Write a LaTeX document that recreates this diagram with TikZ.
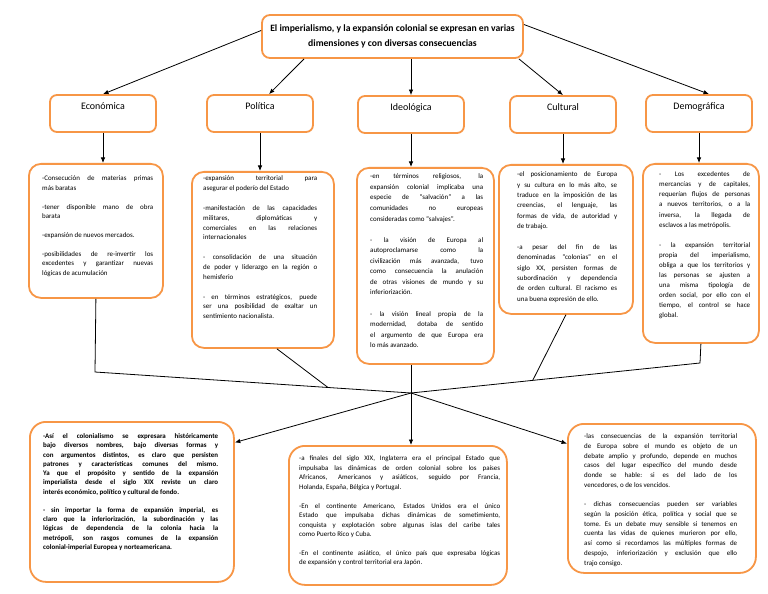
\documentclass[tikz,border=0pt]{standalone}
\usepackage{fontspec}
\setmainfont{Carlito}
\usetikzlibrary{arrows.meta,calc}
\definecolor{borange}{HTML}{F79646}
\newcommand{\boxfmt}[2]{\fontsize{#1}{#2}\selectfont\parskip=#2\relax\parindent=0pt\leftskip=0pt\rightskip=0pt\spaceskip=0.226em plus 1fil\relax\xspaceskip=\spaceskip\parfillskip=0pt plus 1fill\relax\hyphenpenalty=10000\exhyphenpenalty=10000\tolerance=10000\hbadness=10000\leavevmode\rule{0pt}{6pt}\ignorespaces}
\begin{document}
\begin{tikzpicture}[x=1bp,y=-1bp,
  obox/.style={draw=borange, line width=1.8bp, rounded corners=#1, inner sep=0pt, fill=white},
  obox/.default=12bp,
  catbox/.style={obox=7bp, minimum width=106bp, minimum height=37bp, font=\fontsize{10}{12}\selectfont, text height=7bp, text depth=15.6bp},
  cbox/.style={obox=12bp, anchor=north west},
  bbox/.style={obox=16bp, anchor=north west},
  txt/.style={anchor=north west, inner sep=0pt, text width=#1},
  conn/.style={draw=black, line width=0.8bp},
  arr/.style={conn, -{Latex[length=5.5bp,width=4.5bp]}}
]
\fill[white] (0,0) rectangle (768,594);
\useasboundingbox (0,0) rectangle (768,594);

% title
\node[obox=8bp, minimum width=261bp, minimum height=43bp, align=center, font=\bfseries\fontsize{9.7}{15}\selectfont] (T) at (392.5,36.5)
 {El imperialismo, y la expansión colonial se expresan en varias\\dimensiones y con diversas consecuencias};

% categories
\node[catbox] (Ecat) at (103,113.5) {Económica};
\node[catbox] (Pcat) at (260,113.5) {Política};
\node[catbox] (Icat) at (411,114.5) {Ideológica};
\node[catbox] (Ccat) at (563,114.5) {Cultural};
\node[catbox] (Dcat) at (699,113.5) {Demográfica};

% content boxes
\node[cbox, minimum width=134bp, minimum height=134bp] (Ebox) at (28,163) {};
\node[cbox, minimum width=142bp, minimum height=176bp] (Pbox) at (191,171) {};
\node[cbox, minimum width=137bp, minimum height=196bp] (Ibox) at (356,167) {};
\node[cbox, minimum width=134bp, minimum height=149bp] (Cbox) at (498,164) {};
\node[cbox, minimum width=116bp, minimum height=179bp] (Dbox) at (642,163) {};
\node[bbox, minimum width=204bp, minimum height=160bp] (L) at (29,421) {};
\node[bbox, minimum width=218bp, minimum height=139bp] (M) at (288,445) {};
\node[bbox, minimum width=188bp, minimum height=149bp] (R) at (567,423) {};

% texts
\node[txt=111bp] (Et) at (42,174.6) {\boxfmt{7}{9.5pt}-Consecución de materias primas\linebreak más baratas\par
-tener disponible mano de obra\linebreak barata\par
-expansión de nuevos mercados.\par
-posibilidades de re-invertir los\linebreak excedentes y garantizar nuevas\linebreak lógicas de acumulación\par};

\node[txt=114bp] (Pt) at (203,174.6) {\boxfmt{7}{9.9pt}-expansión territorial para\linebreak asegurar el poderío del Estado\par
-manifestación de las capacidades\linebreak militares, diplomáticas y\linebreak comerciales en las relaciones\linebreak internacionales\par
- consolidación de una situación\linebreak de poder y liderazgo en la región o\linebreak hemisferio\par
- en términos estratégicos, puede\linebreak ser una posibilidad de exaltar un\linebreak sentimiento nacionalista.\par};

\node[txt=113bp] (It) at (370,172.6) {\boxfmt{7}{10.6pt}-en términos religiosos, la\linebreak expansión colonial implicaba una\linebreak especie de “salvación” a las\linebreak comunidades no europeas\linebreak consideradas como “salvajes”.\par
- la visión de Europa al\linebreak autoproclamarse como la\linebreak civilización más avanzada, tuvo\linebreak como consecuencia la anulación\linebreak de otras visiones de mundo y su\linebreak inferiorización.\par
- la visión lineal propia de la\linebreak modernidad, dotaba de sentido\linebreak el argumento de que Europa era\linebreak lo más avanzado.\par};

\node[txt=100bp] (Ct) at (517,170.6) {\boxfmt{7}{10.4pt}-el posicionamiento de Europa\linebreak y su cultura en lo más alto, se\linebreak traduce en la imposición de las\linebreak creencias, el lenguaje, las\linebreak formas de vida, de autoridad y\linebreak de trabajo.\par
-a pesar del fin de las\linebreak denominadas “colonias” en el\linebreak siglo XX, persisten formas de\linebreak subordinación y dependencia\linebreak de orden cultural. El racismo es\linebreak una buena expresión de ello.\par};

\node[txt=91bp] (Dt) at (659,170.6) {\boxfmt{7}{10.1pt}- Los excedentes de\linebreak mercancías y de capitales,\linebreak requerían flujos de personas\linebreak a nuevos territorios, o a la\linebreak inversa, la llegada de\linebreak esclavos a las metrópolis.\par
- la expansión territorial\linebreak propia del imperialismo,\linebreak obliga a que los territorios y\linebreak las personas se ajusten a\linebreak una misma tipología de\linebreak orden social, por ello con el\linebreak tiempo, el control se hace\linebreak global.\par};

\node[txt=175bp] (Lt) at (43,432.6) {\bfseries\boxfmt{7}{9.25pt}-Así el colonialismo se expresara históricamente\linebreak bajo diversos nombres, bajo diversas formas y\linebreak con argumentos distintos, es claro que persisten\linebreak patrones y características comunes del mismo.\linebreak Ya que el propósito y sentido de la expansión\linebreak imperialista desde el siglo XIX reviste un claro\linebreak interés económico, político y cultural de fondo.\par
- sin importar la forma de expansión imperial, es\linebreak claro que la inferiorización, la subordinación y las\linebreak lógicas de dependencia de la colonia hacia la\linebreak metrópoli, son rasgos comunes de la expansión\linebreak colonial-imperial Europea y norteamericana.\par};

\node[txt=201bp] (Mt) at (299,454.6) {\boxfmt{7}{9.5pt}-a finales del siglo XIX, Inglaterra era el principal Estado que\linebreak impulsaba las dinámicas de orden colonial sobre los países\linebreak Africanos, Americanos y asiáticos, seguido por Francia,\linebreak Holanda, España, Bélgica y Portugal.\par
-En el continente Americano, Estados Unidos era el único\linebreak Estado que impulsaba dichas dinámicas de sometimiento,\linebreak conquista y explotación sobre algunas islas del caribe tales\linebreak como Puerto Rico y Cuba.\par
-En el continente asiático, el único país que expresaba lógicas\linebreak de expansión y control territorial era Japón.\par};

\node[txt=153bp] (Rt) at (584,432.6) {\boxfmt{7}{9.75pt}-las consecuencias de la expansión territorial\linebreak de Europa sobre el mundo es objeto de un\linebreak debate amplio y profundo, depende en muchos\linebreak casos del lugar específico del mundo desde\linebreak donde se hable: si es del lado de los\linebreak vencedores, o de los vencidos.\par
- dichas consecuencias pueden ser variables\linebreak según la posición ética, política y social que se\linebreak tome. Es un debate muy sensible si tenemos en\linebreak cuenta las vidas de quienes murieron por ello,\linebreak así como si recordamos las múltiples formas de\linebreak despojo, inferiorización y exclusión que ello\linebreak trajo consigo.\par};

% title arrows
\draw[arr] ($(T.west)+(0,-6)$) -- (Ecat.north);
\draw[arr] ($(T.south west)+(43,0)$) -- ($(Pcat.north)+(9,0)$);
\draw[arr] (Icat.north |- T.south) -- (Icat.north);
\draw[arr] ($(T.south east)+(-5,0)$) -- (Ccat.north);
\draw[arr] ($(T.east)+(0,-12)$) -- ($(Dcat.north)+(10,0)$);

% category to content
\draw[arr] (Ecat.south) -- (Ecat.south |- Ebox.north);
\draw[arr] (Pcat.south) -- (Pcat.south |- Pbox.north);
\draw[arr] (Icat.south) -- (Icat.south |- Ibox.north);
\draw[arr] (Ccat.south) -- (Ccat.south |- Cbox.north);
\draw[arr] (Dcat.south) -- (Dcat.south |- Dbox.north);

% lower connectors
\coordinate (X) at (411,393);
\coordinate (J1) at (95,372);
\coordinate (JP) at (328,387.5);
\coordinate (JC) at (532.7,380.4);
\coordinate (JD) at (700,363);
\draw[conn] (Ebox.south) -- (J1) -- (X);
\draw[conn] ($(Pbox.south)+(14,0)$) -- (JP);
\draw[conn] (X |- Ibox.south) -- (X);
\draw[conn] (Cbox.south) -- (JC);
\draw[conn] (Dbox.south) -- (JD) -- (X);
\draw[arr] (X) -- (L.30);
\draw[arr] (X) -- (X |- M.north);
\draw[arr] (X) -- (R.150);
\end{tikzpicture}
\end{document}
